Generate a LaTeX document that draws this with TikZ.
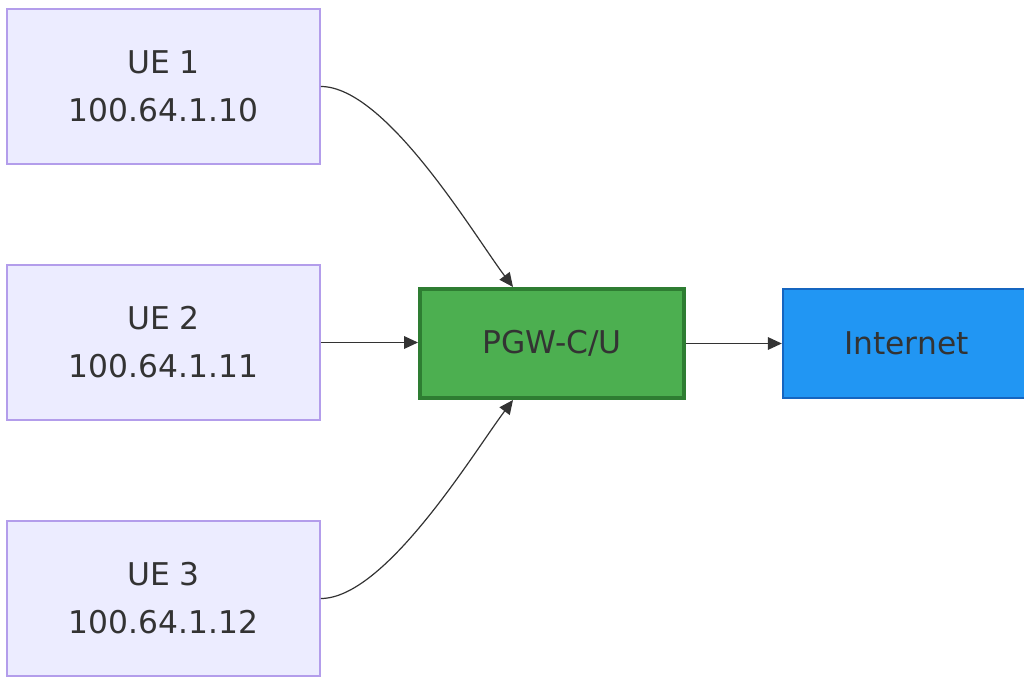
\documentclass[tikz,border=0pt]{standalone}
\usepackage{fontspec}
\setmainfont{DejaVu Sans}
\usetikzlibrary{positioning, arrows.meta}
\definecolor{uefill}{HTML}{ECECFF}
\definecolor{uedraw}{HTML}{B39DEB}
\definecolor{pgwfill}{HTML}{4CAF50}
\definecolor{pgwdraw}{HTML}{2E7D32}
\definecolor{netfill}{HTML}{2196F3}
\definecolor{netdraw}{HTML}{1565C0}
\definecolor{txtgray}{HTML}{333333}
\newcommand{\boxfont}{\fontsize{23.5}{36}\selectfont}

\begin{document}
\begin{tikzpicture}[x=0.75pt, y=-0.75pt,
        ue/.style={draw=uedraw, fill=uefill, line width=1.2pt, text=txtgray,
          minimum width=234.75pt, minimum height=116.25pt, align=center, font=\boxfont},
        gw/.style={draw=pgwdraw, fill=pgwfill, line width=3pt, text=txtgray,
          minimum width=198pt, minimum height=81.75pt, font=\boxfont},
        cloud/.style={draw=netdraw, fill=netfill, line width=1.8pt, text=txtgray,
          minimum width=185.25pt, minimum height=81.75pt, font=\boxfont},
        link/.style={draw=txtgray, line width=0.9pt, -{Triangle[length=10.5pt, width=9.5pt]}}]
        \clip (0,0) rectangle (1024,677);
        \node[ue] (ue1) at (163.5, 86.5) {UE 1\\100.64.1.10};
        \node[ue] (ue2) at (163.5, 342.5) {UE 2\\100.64.1.11};
        \node[ue] (ue3) at (163.5, 598.5) {UE 3\\100.64.1.12};
        \node[gw] (pgw) at (552, 343.5) {PGW-C/U};
        \node[cloud] (inet) at (906.5, 343.5) {Internet};
        \draw[link] (ue1.east) to[out=0, in=127, looseness=0.6] ([xshift=-29.25pt]pgw.north);
        \draw[link] (ue2.east) -- (ue2.east -| pgw.west);
        \draw[link] (ue3.east) to[out=0, in=-127, looseness=0.6] ([xshift=-29.25pt]pgw.south);
        \draw[link] (pgw.east) -- (pgw.east -| inet.west);
      \end{tikzpicture}
\end{document}
